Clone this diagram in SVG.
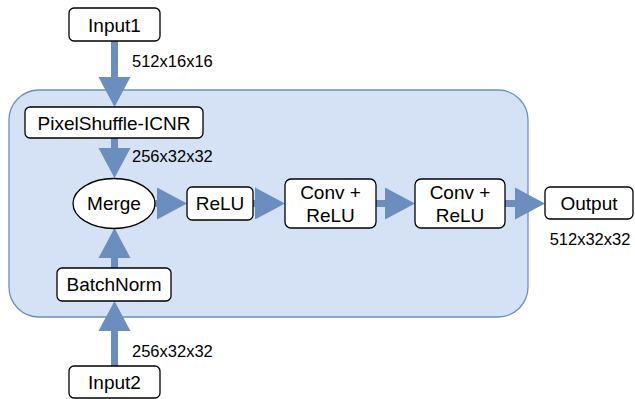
<svg xmlns="http://www.w3.org/2000/svg" width="635" height="399" viewBox="0 0 635 399">
<defs>
<marker id="head" markerUnits="userSpaceOnUse" markerWidth="30" markerHeight="32" refX="0" refY="16" orient="auto" overflow="visible">
<path d="M0,0 L30,16 L0,32 Z" fill="#6c8ebf"/>
</marker>
<style>
.node{fill:#ffffff;stroke:#000000;stroke-width:1.3}
.lbl{font-family:"Liberation Sans",Arial,sans-serif;font-size:19px;fill:#000000;text-anchor:middle}
.dim{font-family:"Liberation Sans",Arial,sans-serif;font-size:16.5px;fill:#000000}
.edge{stroke:#6c8ebf;stroke-width:7;fill:none;marker-end:url(#head)}
</style>
</defs>
<rect width="635" height="399" fill="#ffffff"/>
<g id="container">
<rect x="9" y="90" width="519" height="227" rx="30" ry="30" fill="#d5e2f5" stroke="#6c8ebf" stroke-width="1.3"/>
</g>
<g id="connectors">
<line class="edge" x1="114.5" y1="41" x2="114.5" y2="77"/>
<line class="edge" x1="114.5" y1="138" x2="114.5" y2="148"/>
<line class="edge" x1="114.5" y1="268" x2="114.5" y2="258"/>
<line class="edge" x1="114.5" y1="366" x2="114.5" y2="331"/>
<line class="edge" x1="154" y1="203.5" x2="157" y2="203.5"/>
<line class="edge" x1="253" y1="203.5" x2="255" y2="203.5"/>
<line class="edge" x1="376" y1="203.5" x2="385" y2="203.5"/>
<line class="edge" x1="505" y1="203.5" x2="515" y2="203.5"/>
<text class="dim" x="132" y="66.5">512x16x16</text>
<text class="dim" x="132" y="162">256x32x32</text>
<text class="dim" x="132" y="356.5">256x32x32</text>
<text class="dim" x="590" y="244.5" text-anchor="middle">512x32x32</text>
</g>
<g id="input1">
<rect class="node" x="69" y="8" width="91" height="33" rx="5"/>
<text class="lbl" x="114.5" y="31.5">Input1</text>
</g>
<g id="pixelshuffle">
<rect class="node" x="25" y="107" width="178" height="31" rx="5"/>
<text class="lbl" x="114" y="129.5">PixelShuffle-ICNR</text>
</g>
<g id="merge">
<ellipse class="node" cx="114" cy="203.5" rx="41" ry="25"/>
<text class="lbl" x="114" y="210">Merge</text>
</g>
<g id="relu">
<rect class="node" x="187" y="187" width="66" height="33" rx="5"/>
<text class="lbl" x="220" y="210">ReLU</text>
</g>
<g id="conv1">
<rect class="node" x="285" y="179" width="91" height="49" rx="6"/>
<text class="lbl" x="330.5" y="199">Conv +</text>
<text class="lbl" x="330.5" y="221.5">ReLU</text>
</g>
<g id="conv2">
<rect class="node" x="415" y="179" width="90" height="49" rx="6"/>
<text class="lbl" x="460" y="199">Conv +</text>
<text class="lbl" x="460" y="221.5">ReLU</text>
</g>
<g id="output">
<rect class="node" x="545" y="187" width="88" height="32" rx="5"/>
<text class="lbl" x="589" y="210">Output</text>
</g>
<g id="batchnorm">
<rect class="node" x="57" y="268" width="114" height="33" rx="5"/>
<text class="lbl" x="114" y="291">BatchNorm</text>
</g>
<g id="input2">
<rect class="node" x="69" y="366" width="91" height="32" rx="5"/>
<text class="lbl" x="114.5" y="389">Input2</text>
</g>
</svg>
